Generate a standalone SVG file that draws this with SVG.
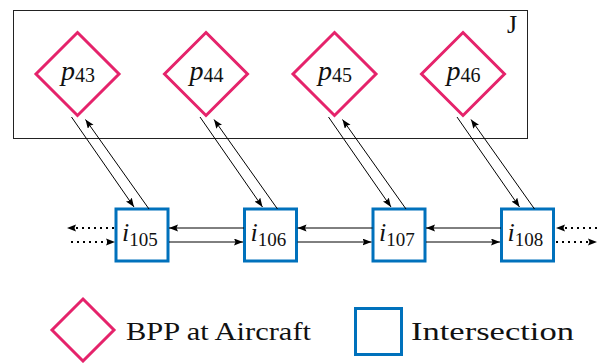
<svg xmlns="http://www.w3.org/2000/svg" width="597" height="363" viewBox="0 0 597 363">
<defs>
<marker id="ah" markerUnits="userSpaceOnUse" markerWidth="10" markerHeight="8" refX="9" refY="3.5" orient="auto">
<path d="M0,0 L9,3.5 L0,7 L1.5,3.5 z" fill="#000"/>
</marker>
</defs>
<style>
.dia{fill:#fff;stroke:#E5236B;stroke-width:3}
.sq{fill:#fff;stroke:#0071BC;stroke-width:3}
.ln{stroke:#000;stroke-width:1;fill:none;marker-end:url(#ah)}
.dot{stroke:#000;stroke-width:2;fill:none;stroke-dasharray:2 4;}
text{fill:#111;font-family:"Liberation Serif","DejaVu Serif","Times New Roman",serif}
</style>
<rect id="J" x="13.5" y="10.5" width="514" height="128" fill="#fff" stroke="#222" stroke-width="1"/>
<text x="507" y="33" font-size="26" font-family="Liberation Serif, serif">J</text>

<g id="p43"><polygon class="dia" points="77.5,32.5 119,74 77.5,115.5 36,74"/><text x="61" y="80" font-family="Liberation Serif, serif"><tspan font-style="italic" font-size="28">p</tspan><tspan font-size="20" dy="2">43</tspan></text></g>
<g id="p44"><polygon class="dia" points="206,32.5 247.5,74 206,115.5 164.5,74"/><text x="189.5" y="80" font-family="Liberation Serif, serif"><tspan font-style="italic" font-size="28">p</tspan><tspan font-size="20" dy="2">44</tspan></text></g>
<g id="p45"><polygon class="dia" points="334.5,32.5 376,74 334.5,115.5 293,74"/><text x="318" y="80" font-family="Liberation Serif, serif"><tspan font-style="italic" font-size="28">p</tspan><tspan font-size="20" dy="2">45</tspan></text></g>
<g id="p46"><polygon class="dia" points="463,32.5 504.5,74 463,115.5 421.5,74"/><text x="446.5" y="80" font-family="Liberation Serif, serif"><tspan font-style="italic" font-size="28">p</tspan><tspan font-size="20" dy="2">46</tspan></text></g>

<g id="i105"><rect class="sq" x="116" y="209" width="52" height="52"/><text x="122" y="241" font-family="Liberation Serif, serif"><tspan font-style="italic" font-size="26">i</tspan><tspan font-size="19" dy="5">105</tspan></text></g>
<g id="i106"><rect class="sq" x="244.5" y="209" width="52" height="52"/><text x="250.5" y="241" font-family="Liberation Serif, serif"><tspan font-style="italic" font-size="26">i</tspan><tspan font-size="19" dy="5">106</tspan></text></g>
<g id="i107"><rect class="sq" x="373" y="209" width="52" height="52"/><text x="379" y="241" font-family="Liberation Serif, serif"><tspan font-style="italic" font-size="26">i</tspan><tspan font-size="19" dy="5">107</tspan></text></g>
<g id="i108"><rect class="sq" x="501.5" y="209" width="52" height="52"/><text x="507.5" y="241" font-family="Liberation Serif, serif"><tspan font-style="italic" font-size="26">i</tspan><tspan font-size="19" dy="5">108</tspan></text></g>

<g id="connectors">
<line class="ln" x1="71.5" y1="117" x2="134" y2="207"/>
<line class="ln" x1="149" y1="209" x2="85.5" y2="119.5"/>
<line class="ln" x1="200" y1="117" x2="262.5" y2="207"/>
<line class="ln" x1="277.5" y1="209" x2="214" y2="119.5"/>
<line class="ln" x1="328.5" y1="117" x2="391" y2="207"/>
<line class="ln" x1="406" y1="209" x2="342.5" y2="119.5"/>
<line class="ln" x1="457" y1="117" x2="519.5" y2="207"/>
<line class="ln" x1="534.5" y1="209" x2="471" y2="119.5"/>

<line class="ln" x1="244" y1="228" x2="169" y2="228"/>
<line class="ln" x1="169" y1="242" x2="243" y2="242"/>
<line class="ln" x1="372.5" y1="228" x2="297.5" y2="228"/>
<line class="ln" x1="297.5" y1="242" x2="371.5" y2="242"/>
<line class="ln" x1="501" y1="228" x2="426" y2="228"/>
<line class="ln" x1="426" y1="242" x2="500" y2="242"/>

<line class="dot" x1="114" y1="228" x2="74" y2="228"/>
<path d="M67,228 L76,224.5 L74.5,228 L76,231.5 z" fill="#000"/>
<line class="dot" x1="71" y1="242" x2="108" y2="242"/>
<path d="M115,242 L106,238.5 L107.5,242 L106,245.5 z" fill="#000"/>
<line class="dot" x1="597" y1="228" x2="563" y2="228"/>
<path d="M556,228 L565,224.5 L563.5,228 L565,231.5 z" fill="#000"/>
<line class="dot" x1="556" y1="242" x2="590" y2="242"/>
<path d="M597,242 L588,238.5 L589.5,242 L588,245.5 z" fill="#000"/>
</g>

<g id="legend">
<polygon class="dia" points="83,299 114,330 83,361 52,330"/>
<text x="126" y="340" font-size="26" font-family="Liberation Serif, serif" textLength="185" lengthAdjust="spacingAndGlyphs">BPP at Aircraft</text>
<rect class="sq" x="355.5" y="308.5" width="46" height="46"/>
<text x="411" y="340" font-size="26" font-family="Liberation Serif, serif" textLength="163" lengthAdjust="spacingAndGlyphs">Intersection</text>
</g>
</svg>
